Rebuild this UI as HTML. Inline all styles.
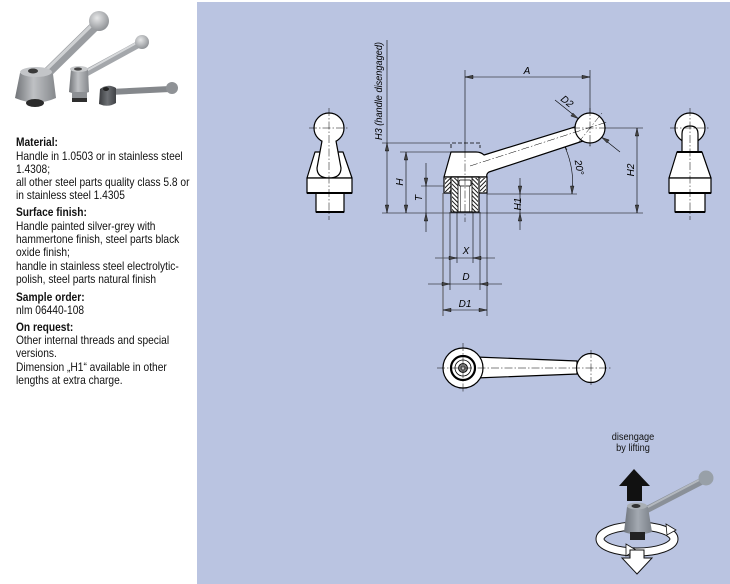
<!DOCTYPE html>
<html><head><meta charset="utf-8"><style>
html,body{margin:0;padding:0;background:#fff;}
body{width:730px;height:584px;position:relative;overflow:hidden;font-family:"Liberation Sans",Arial,sans-serif;}
.t{position:absolute;left:16px;white-space:nowrap;font-size:12px;line-height:14px;color:#111;transform:scaleX(.85);transform-origin:0 0;}
.b{font-weight:bold;}
.d{position:absolute;white-space:nowrap;font-size:10px;line-height:11px;color:#111;transform:translateX(-50%) scaleX(.92);text-align:center;}
</style></head><body>
<svg width="730" height="584" style="position:absolute;left:0;top:0" xmlns="http://www.w3.org/2000/svg">
<defs>
<pattern id="h" width="3" height="3" patternUnits="userSpaceOnUse" patternTransform="rotate(45)"><rect width="3" height="3" fill="#fff"/><line x1="0.5" y1="0" x2="0.5" y2="3" stroke="#000" stroke-width="0.9"/></pattern>
<pattern id="h2" width="3" height="3" patternUnits="userSpaceOnUse" patternTransform="rotate(-45)"><rect width="3" height="3" fill="#fff"/><line x1="0.5" y1="0" x2="0.5" y2="3" stroke="#000" stroke-width="0.9"/></pattern>
<linearGradient id="gk" x1="0" x2="1" y1="0" y2="0"><stop offset="0" stop-color="#707377"/><stop offset=".45" stop-color="#bfc1c4"/><stop offset="1" stop-color="#85888c"/></linearGradient>
<radialGradient id="gb" cx=".4" cy=".35" r=".7"><stop offset="0" stop-color="#e6e7e8"/><stop offset="1" stop-color="#8a8d91"/></radialGradient>
<linearGradient id="gd" x1="0" x2="1"><stop offset="0" stop-color="#3a3c3f"/><stop offset=".5" stop-color="#6d7074"/><stop offset="1" stop-color="#404246"/></linearGradient>
<linearGradient id="gp" x1="0" x2="1"><stop offset="0" stop-color="#6f757d"/><stop offset=".5" stop-color="#a3a9b1"/><stop offset="1" stop-color="#7a8088"/></linearGradient>
</defs>

<!-- photo top-left -->
<g>
<line x1="46" y1="74" x2="97" y2="24" stroke="#9a9da1" stroke-width="10" stroke-linecap="round"/>
<line x1="45" y1="71" x2="95" y2="22" stroke="#cfd1d3" stroke-width="3" stroke-linecap="round"/>
<circle cx="99" cy="21" r="10" fill="url(#gb)"/>
<path d="M20,73 Q36,64 53,74 L56,98 Q36,107 15,98 Z" fill="url(#gk)"/>
<ellipse cx="36" cy="72" rx="16" ry="5" fill="#c3c5c8"/>
<ellipse cx="33" cy="71" rx="5" ry="2.5" fill="#3a3a3a"/>
<ellipse cx="35" cy="103" rx="9" ry="4" fill="#2b2b2b"/>
<line x1="86" y1="73" x2="141" y2="43" stroke="#a4a7ab" stroke-width="7" stroke-linecap="round"/>
<line x1="86" y1="71" x2="140" y2="41" stroke="#d6d8da" stroke-width="2" stroke-linecap="round"/>
<circle cx="142" cy="42" r="7" fill="url(#gb)"/>
<path d="M71,69 Q79,65 88,69 L89,92 Q79,96 69,92 Z" fill="url(#gk)"/>
<ellipse cx="79" cy="69" rx="9" ry="3" fill="#c8cacc"/>
<ellipse cx="78" cy="69" rx="4" ry="1.6" fill="#444"/>
<rect x="72" y="92" width="15" height="9" fill="#8d9094"/>
<rect x="72" y="98" width="15" height="4" fill="#2e2e2e"/>
<line x1="110" y1="92" x2="170" y2="89" stroke="#85888c" stroke-width="6" stroke-linecap="round"/>
<circle cx="172" cy="88" r="6" fill="#8f9296"/>
<path d="M100,89 Q108,83 116,88 L116,103 Q108,108 99,104 Z" fill="url(#gd)"/>
<ellipse cx="106" cy="89" rx="3" ry="2" fill="#222"/>
</g>

<!-- blue panel -->
<rect x="197" y="2" width="533" height="582" fill="#bac4e1"/>

<g fill="none" stroke="#000" stroke-width="0.6">
<line x1="387" y1="40" x2="387" y2="213"/>
<line x1="382" y1="143" x2="450" y2="143"/>
<path d="M451,148 L451,143 L480,143 L480,148" stroke-dasharray="4 2" stroke-width="0.8"/>
<line x1="406" y1="152" x2="406" y2="213"/>
<line x1="400" y1="152" x2="451" y2="152"/>
<line x1="426" y1="163" x2="426" y2="232"/>
<line x1="421" y1="186" x2="444" y2="186"/>
<line x1="382" y1="213" x2="643" y2="213"/>
<line x1="520" y1="178" x2="520" y2="230"/>
<line x1="487" y1="194" x2="577" y2="194"/>
<line x1="637" y1="128" x2="637" y2="213"/>
<line x1="605" y1="128" x2="643" y2="128"/>
<line x1="465" y1="77" x2="590" y2="77"/>
<line x1="465" y1="70" x2="465" y2="150"/>
<line x1="590" y1="70" x2="590" y2="146"/>
<line x1="555" y1="100" x2="620" y2="152"/>
<path d="M562,141 L567,150"/>
<path d="M565,147 Q575,170 572,194"/>
<line x1="435" y1="258" x2="495" y2="258"/>
<line x1="428" y1="284" x2="502" y2="284"/>
<line x1="443" y1="310" x2="487" y2="310"/>
<line x1="443" y1="193" x2="443" y2="316" stroke="#555" stroke-width="1"/>
<line x1="450" y1="212" x2="450" y2="290"/>
<line x1="457" y1="212" x2="457" y2="263"/>
<line x1="473" y1="212" x2="473" y2="263"/>
<line x1="480" y1="212" x2="480" y2="290"/>
<line x1="487" y1="193" x2="487" y2="316"/>
</g>

<g fill="#444" stroke="#000" stroke-width="0.4">
<polygon points="387,143 385.2,151 388.8,151"/>
<polygon points="387,213 385.2,205 388.8,205"/>
<polygon points="406,152 404.2,160 407.8,160"/>
<polygon points="406,213 404.2,205 407.8,205"/>
<polygon points="426,186 424.2,178 427.8,178"/>
<polygon points="426,213 424.2,221 427.8,221"/>
<polygon points="520,194 518.2,186 521.8,186"/>
<polygon points="520,213 518.2,221 521.8,221"/>
<polygon points="637,128 635.2,136 638.8,136"/>
<polygon points="637,213 635.2,205 638.8,205"/>
<polygon points="465,77 473,75.2 473,78.8"/>
<polygon points="590,77 582,75.2 582,78.8"/>
<polygon points="578.3,118.6 573.0,113.1 570.8,116.0"/>
<polygon points="601.7,137.4 607.0,142.9 609.2,140.0"/>
<polygon points="572,194 570.4,186 574,186"/>
<polygon points="457,258 449,256.2 449,259.8"/>
<polygon points="473,258 481,256.2 481,259.8"/>
<polygon points="450,284 442,282.2 442,285.8"/>
<polygon points="480,284 488,282.2 488,285.8"/>
<polygon points="443,310 451,308.2 451,311.8"/>
<polygon points="487,310 479,308.2 479,311.8"/>
</g>

<g stroke="#000" stroke-width="1.2" stroke-linejoin="round">
<path d="M444,177 L451,152 L476,152 Q481,152 484,155 L578,126 L583,141 L489,172 Q486,174 487,177 Z" fill="#fff"/>
<circle cx="590" cy="128" r="15" fill="#fff"/>
<rect x="444" y="177" width="43" height="16" fill="#fff"/>
<rect x="445" y="178" width="6" height="14" fill="url(#h)" stroke="none"/>
<rect x="480" y="178" width="6" height="14" fill="url(#h)" stroke="none"/>
<rect x="451" y="177" width="28" height="35" fill="#fff"/>
<rect x="452" y="178" width="6" height="33.5" fill="url(#h2)" stroke="none"/>
<rect x="472" y="178" width="6" height="33.5" fill="url(#h2)" stroke="none"/>
<line x1="458" y1="177" x2="458" y2="212" stroke-width="0.8"/>
<line x1="472" y1="177" x2="472" y2="212" stroke-width="0.8"/>
<line x1="460.5" y1="183" x2="460.5" y2="212" stroke-width="0.5"/>
<line x1="469.5" y1="183" x2="469.5" y2="212" stroke-width="0.5"/>
<rect x="459" y="180" width="12" height="6" rx="1.5" fill="#fff" stroke-width="0.8"/>
</g>
<g stroke="#000" stroke-width="0.5" stroke-dasharray="8 2 1.5 2" fill="none">
<line x1="465" y1="150" x2="465" y2="222"/>
<line x1="470" y1="166" x2="607" y2="122"/>
<line x1="572" y1="128" x2="606" y2="128"/>
<line x1="590" y1="108" x2="590" y2="148"/>
<line x1="578" y1="143" x2="602" y2="113"/>
</g>

<g stroke="#000" stroke-width="1.2" fill="#fff" stroke-linejoin="round">
<path d="M315,152 L343,152 L352,178 L307,178 Z"/>
<circle cx="329" cy="128" r="15"/>
<path d="M322,141 L317,168 Q317,178 329,178 Q341,178 341,168 L336,141"/>
<rect x="307" y="178" width="45" height="15"/>
<rect x="316" y="193" width="28" height="19"/>
<line x1="307" y1="193" x2="352" y2="193" stroke-width="2"/>
<line x1="316" y1="212" x2="344" y2="212" stroke-width="2"/>
</g>
<g stroke="#000" stroke-width="0.5" stroke-dasharray="8 2 1.5 2">
<line x1="329" y1="108" x2="329" y2="220"/>
<line x1="309" y1="128" x2="349" y2="128"/>
</g>

<g stroke="#000" stroke-width="1.2" fill="#fff" stroke-linejoin="round">
<circle cx="690" cy="128" r="15"/>
<path d="M682,152 L682,134 Q682,126 690,126 Q698,126 698,134 L698,152"/>
<path d="M677,152 L702,152 L711,178 L669,178 Z"/>
<line x1="677" y1="152" x2="702" y2="152" stroke-width="2"/>
<rect x="669" y="178" width="42" height="15"/>
<rect x="675" y="193" width="30" height="19"/>
<line x1="669" y1="193" x2="711" y2="193" stroke-width="2"/>
<line x1="675" y1="212" x2="705" y2="212" stroke-width="2"/>
</g>
<g stroke="#000" stroke-width="0.5" stroke-dasharray="8 2 1.5 2">
<line x1="690" y1="108" x2="690" y2="220"/>
<line x1="670" y1="128" x2="710" y2="128"/>
</g>

<g stroke="#000" stroke-width="1.2" fill="#fff">
<polygon points="476,357 577,361 577,374 476,378"/>
<circle cx="463" cy="368" r="20"/>
<circle cx="463" cy="368" r="12" stroke-width="2.2"/>
<circle cx="463" cy="368" r="8" stroke-width="0.8"/>
<circle cx="463" cy="368" r="4.5" fill="#777" stroke-width="0.8"/>
<circle cx="463" cy="368" r="2" fill="#ccc" stroke-width="0.5"/>
<circle cx="591" cy="368" r="14.5"/>
</g>
<g stroke="#000" stroke-width="0.5" stroke-dasharray="8 2 1.5 2">
<line x1="437" y1="368" x2="612" y2="368"/>
<line x1="463" y1="343" x2="463" y2="393"/>
<line x1="591" y1="350" x2="591" y2="386"/>
</g>

<g font-family="Liberation Sans, Arial, sans-serif" font-style="italic" font-size="10" fill="#000">
<text transform="translate(382,91) rotate(-90)" text-anchor="middle" textLength="98" lengthAdjust="spacingAndGlyphs">H3 (handle disengaged)</text>
<text transform="translate(403,182) rotate(-90)" text-anchor="middle">H</text>
<text transform="translate(422,198) rotate(-90)" text-anchor="middle">T</text>
<text transform="translate(521,204) rotate(-90)" text-anchor="middle">H1</text>
<text transform="translate(634,170) rotate(-90)" text-anchor="middle">H2</text>
<text x="527" y="74" text-anchor="middle">A</text>
<text transform="translate(565,104) rotate(38.7)" text-anchor="middle">D2</text>
<text transform="translate(576,168) rotate(80)" text-anchor="middle">20°</text>
<text x="466" y="254" text-anchor="middle">X</text>
<text x="466" y="280" text-anchor="middle">D</text>
<text x="465" y="307" text-anchor="middle">D1</text>
</g>

<polygon points="634,469 650,486 642,486 642,501 627,501 627,486 619,486" fill="#111"/>
<path d="M600,539 A37,13 0 0 1 674,539" fill="none" stroke="#111" stroke-width="9"/>
<path d="M600,539 A37,13 0 0 1 674,539" fill="none" stroke="#fff" stroke-width="7"/>
<line x1="646" y1="510" x2="704" y2="480" stroke="#8a9098" stroke-width="7" stroke-linecap="round"/>
<line x1="646" y1="508" x2="703" y2="478" stroke="#b3b8be" stroke-width="2" stroke-linecap="round"/>
<circle cx="706" cy="478" r="7.5" fill="#98a0a8"/>
<path d="M627,507 Q637,502 648,507 L652,532 Q637,537 624,532 Z" fill="url(#gp)"/>
<ellipse cx="637" cy="506" rx="10" ry="3.5" fill="#a9afb6"/>
<ellipse cx="636" cy="506" rx="4.5" ry="2" fill="#333"/>
<rect x="630" y="532" width="15" height="8" fill="#222"/>
<path d="M600,539 A37,13 0 0 0 674,539" fill="none" stroke="#111" stroke-width="9"/>
<path d="M600,539 A37,13 0 0 0 674,539" fill="none" stroke="#fff" stroke-width="7"/>
<polygon points="626,544 636,550 626,556" fill="#fff" stroke="#111" stroke-width="0.8"/>
<polygon points="666,524 676,530 667,535" fill="#fff" stroke="#111" stroke-width="0.8"/>
<polygon points="630,550 644,550 644,558 652,558 637,574 622,558 630,558" fill="#fff" stroke="#111" stroke-width="1"/>
</svg>

<div class="d" style="left:633px;top:432px">disengage</div>
<div class="d" style="left:633px;top:443px">by lifting</div>

<div class="t b" style="top:135px">Material:</div>
<div class="t" style="top:149px">Handle in 1.0503 or in stainless steel</div>
<div class="t" style="top:162px">1.4308;</div>
<div class="t" style="top:175px">all other steel parts quality class 5.8 or</div>
<div class="t" style="top:188px">in stainless steel 1.4305</div>
<div class="t b" style="top:205px">Surface finish:</div>
<div class="t" style="top:219px">Handle painted silver-grey with</div>
<div class="t" style="top:232px">hammertone finish, steel parts black</div>
<div class="t" style="top:245px">oxide finish;</div>
<div class="t" style="top:259px">handle in stainless steel electrolytic-</div>
<div class="t" style="top:272px">polish, steel parts natural finish</div>
<div class="t b" style="top:290px">Sample order:</div>
<div class="t" style="top:303px">nlm 06440-108</div>
<div class="t b" style="top:320px">On request:</div>
<div class="t" style="top:333px">Other internal threads and special</div>
<div class="t" style="top:346px">versions.</div>
<div class="t" style="top:360px">Dimension „H1“ available in other</div>
<div class="t" style="top:373px">lengths at extra charge.</div>
</body></html>
